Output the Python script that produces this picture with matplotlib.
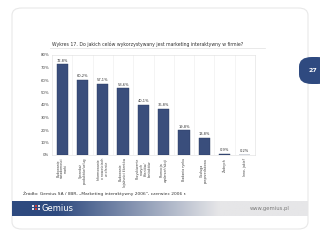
import matplotlib
matplotlib.use("Agg")
import matplotlib.pyplot as plt
import numpy as np
from matplotlib.patches import FancyBboxPatch, Rectangle

categories = [
    "Budowanie\nświadomości\nmarki",
    "Sprzedaż\nproduktów/usług",
    "Informowanie\no nowościach\nw ofercie",
    "Budowanie\nlojalności klientów",
    "Pozyskiwanie\nnowych\nklientów/\nkontaktów",
    "Promocja\nwydarzeń/akcji",
    "Badania rynku",
    "Obsługa\nposprzedażowa",
    "Żadnych",
    "Inne, jakie?",
]
values = [72.8, 60.2, 57.1, 53.6, 40.1, 36.8, 19.8, 13.8, 0.9, 0.2]
value_labels = ["72,8%", "60,2%", "57,1%", "53,6%", "40,1%", "36,8%", "19,8%", "13,8%", "0,9%", "0,2%"]
yticks = [0, 10, 20, 30, 40, 50, 60, 70, 80]
ytick_labels = ["0%", "10%", "20%", "30%", "40%", "50%", "60%", "70%", "80%"]

W, H = 320, 240
fig = plt.figure(figsize=(3.2, 2.4), dpi=100)
fig.patch.set_facecolor("white")

def fx(px):
    return px / W
def fy(py):
    return 1 - py / H

# slide rounded border
border = FancyBboxPatch((fx(12), fy(229)), fx(308) - fx(12), fy(8) - fy(229),
                        boxstyle="round,pad=0,rounding_size=0.03",
                        transform=fig.transFigure, facecolor="none",
                        edgecolor="#e8e8e8", linewidth=0.8, zorder=-1)
fig.patches.append(border)

# page tab
tab = FancyBboxPatch((fx(299), fy(84)), fx(330) - fx(299), fy(57) - fy(84),
                     boxstyle="round,pad=0,rounding_size=0.04",
                     transform=fig.transFigure, facecolor="#2f4a80",
                     edgecolor="none", zorder=-1)
fig.patches.append(tab)
fig.text(fx(313), fy(71), "27", color="white", fontsize=4.5, fontweight="bold",
         ha="center", va="center")

# title
fig.text(fx(52), fy(44), "Wykres 17. Do jakich celów wykorzystywany jest marketing interaktywny w firmie?",
         fontsize=3.3, color="#333333", ha="left", va="center")
fig.add_artist(plt.Line2D([fx(50), fx(265)], [fy(48), fy(48)], color="#e0e0e0",
                          linewidth=0.5, transform=fig.transFigure))

# chart
ax = fig.add_axes([fx(52), fy(155), fx(255) - fx(52), fy(55) - fy(155)])
x = np.arange(len(categories))
ax.bar(x, values, width=0.55, color="#3a4e7c", edgecolor="#2a3a60", linewidth=0.3, zorder=3)
for xi, v, lab in zip(x, values, value_labels):
    ax.text(xi, v + 1.2, lab, ha="center", va="bottom", fontsize=2.6, color="#333333")
ax.set_xlim(-0.5, len(categories) - 0.5)
ax.set_ylim(0, 80)
ax.set_yticks(yticks)
ax.set_yticklabels(ytick_labels, fontsize=2.8, color="#444444")
ax.set_xticks(x)
ax.set_xticklabels(categories, rotation=90, fontsize=2.3, color="#444444", va="top",
                   ha="center", linespacing=1.0)
ax.tick_params(axis="both", length=0, pad=2)
for xv in np.arange(0.5, len(categories) - 0.5, 1):
    ax.axvline(xv, color="#ececec", linewidth=0.4, zorder=1)
for s in ax.spines.values():
    s.set_color("#dddddd")
    s.set_linewidth(0.4)

# source
fig.text(fx(23), fy(194), "Źródło: Gemius SA / IIBR, „Marketing interaktywny 2006”, czerwiec 2006 r.",
         fontsize=3.2, color="#333333", ha="left", va="center")

# footer gradient band
fax = fig.add_axes([fx(12), fy(216), fx(308) - fx(12), fy(201) - fy(216)])
grad = np.linspace(0, 1, 256)
c1 = np.array([0x2e, 0x4a, 0x7f]) / 255
c2 = np.array([0xe6, 0xe6, 0xe8]) / 255
t = np.clip((grad - 0.15) / 0.55, 0, 1)
rgb = (1 - t)[:, None] * c1 + t[:, None] * c2
fax.imshow(rgb[None, :, :], aspect="auto", extent=[0, 1, 0, 1])
fax.set_xlim(0, 1)
fax.set_ylim(0, 1)
fax.set_axis_off()
fax.text(0.10, 0.5, "Gemius", fontsize=6, color="white", ha="left", va="center",
         transform=fax.transAxes)
# small logo squares
sq = 0.0065
for i, (cx, cy) in enumerate([(0.069, 0.58), (0.069, 0.38), (0.078, 0.58), (0.078, 0.38),
                              (0.087, 0.58), (0.087, 0.38)]):
    col = "#c83c3c" if i in (2, 3) else "#dfe3ee"
    fax.add_patch(Rectangle((cx, cy), sq, 0.15, facecolor=col, edgecolor="none",
                            transform=fax.transAxes))
fax.text(0.937, 0.5, "www.gemius.pl", fontsize=3.8, color="#7a7a7a", ha="right", va="center",
         transform=fax.transAxes)

fig.savefig("out.png", dpi=100, facecolor="white")
